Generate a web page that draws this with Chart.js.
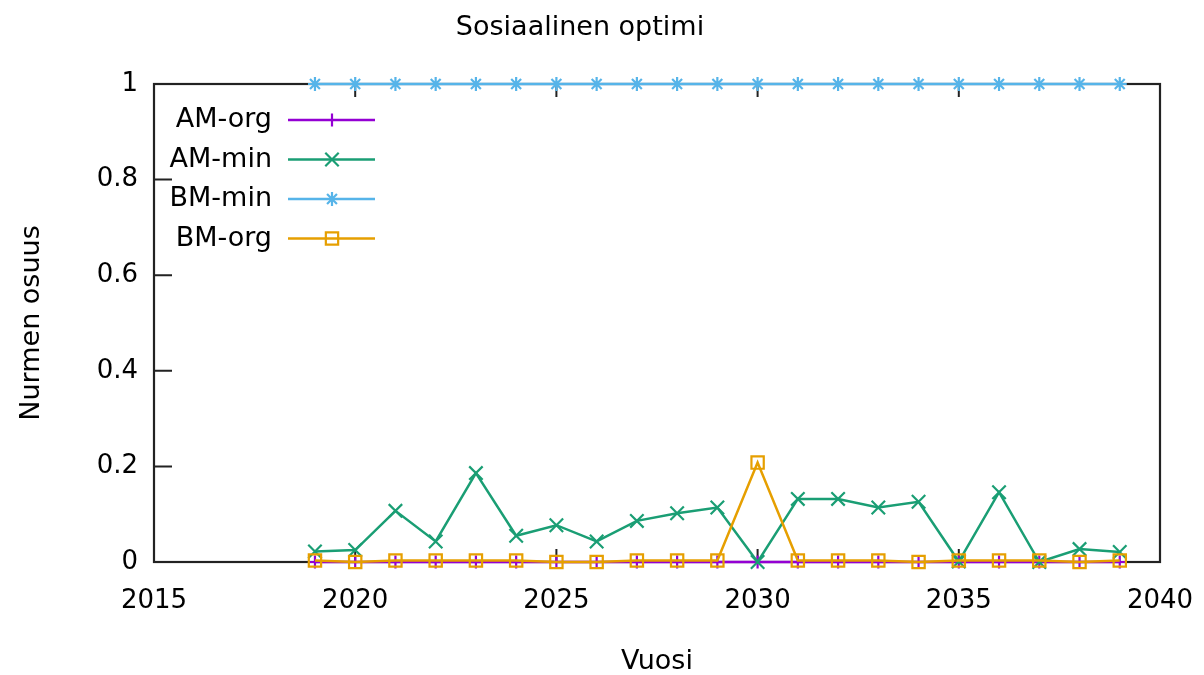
<!DOCTYPE html>
<html>
<head>
<meta charset="utf-8">
<script src="https://cdn.jsdelivr.net/npm/chart.js@4/dist/chart.umd.min.js"></script>
<style>
  html, body { margin: 0; padding: 0; background: #fff; }
  #wrap { width: 1204px; height: 675px; }
</style>
</head>
<body>
<div id="wrap"><canvas id="chart" width="1204" height="675"></canvas></div>
<script>
const years  = [2019, 2020, 2021, 2022, 2023, 2024, 2025, 2026, 2027, 2028, 2029,
                2030, 2031, 2032, 2033, 2034, 2035, 2036, 2037, 2038, 2039];
const amOrg  = [0, 0, 0, 0, 0, 0, 0, 0, 0, 0, 0, 0, 0, 0, 0, 0, 0, 0, 0, 0, 0];
const amMin  = [0.022, 0.025, 0.107, 0.043, 0.186, 0.055, 0.077, 0.043, 0.086, 0.102, 0.114,
                0.0, 0.132, 0.132, 0.114, 0.126, 0.001, 0.146, 0.0, 0.027, 0.021];
const bmMin  = [1, 1, 1, 1, 1, 1, 1, 1, 1, 1, 1, 1, 1, 1, 1, 1, 1, 1, 1, 1, 1];
const bmOrg  = [0.003, 0.0, 0.003, 0.003, 0.003, 0.003, 0.0, 0.0, 0.003, 0.003, 0.003,
                0.208, 0.003, 0.003, 0.003, 0.0, 0.003, 0.003, 0.003, 0.0, 0.003];
const seriesNames = ['AM-org', 'AM-min', 'BM-min', 'BM-org'];
const xTicksRange = [2015, 2040, 5];
const yTicksRange = [0, 1, 0.2];

const FONT = 'DejaVu Sans';
const COL = { amOrg: '#9400d3', amMin: '#1a9e74', bmMin: '#56b4e9', bmOrg: '#e69f00' };

const pts = arr => arr.map((v, i) => ({ x: years[i], y: v }));

const series = [
  { label: seriesNames[0], data: pts(amOrg), color: COL.amOrg, style: 'cross',    r: 6.5, order: 4 },
  { label: seriesNames[1], data: pts(amMin), color: COL.amMin, style: 'crossRot', r: 9.5, order: 3 },
  { label: seriesNames[2], data: pts(bmMin), color: COL.bmMin, style: 'star',     r: 7,   order: 2 },
  { label: seriesNames[3], data: pts(bmOrg), color: COL.bmOrg, style: 'rect',     r: 8.7, order: 1 },
];

// gnuplot style frame + inward ticks
const framePlugin = {
  id: 'frame',
  beforeDatasetsDraw(chart) {
    const { ctx, chartArea: a, scales: { x, y } } = chart;
    ctx.save();
    ctx.strokeStyle = '#222';
    ctx.lineWidth = 2;
    ctx.beginPath();
    x.ticks.forEach(t => {
      const px = x.getPixelForValue(t.value);
      ctx.moveTo(px, a.bottom); ctx.lineTo(px, a.bottom - 13);
      ctx.moveTo(px, a.top);    ctx.lineTo(px, a.top + 13);
    });
    y.ticks.forEach(t => {
      const py = y.getPixelForValue(t.value);
      ctx.moveTo(a.left, py); ctx.lineTo(a.left + 18, py);
    });
    ctx.stroke();
    ctx.lineWidth = 2.2;
    ctx.strokeRect(a.left, a.top, a.right - a.left, a.bottom - a.top);
    ctx.restore();
  }
};

// legend inside plot, text right-aligned before the sample
const keyPlugin = {
  id: 'key',
  afterDraw(chart) {
    const { ctx } = chart;
    ctx.save();
    ctx.font = '27px "' + FONT + '"';
    ctx.textAlign = 'right';
    ctx.textBaseline = 'middle';
    series.forEach((s, i) => {
      const yy = 120 + i * 39.5;
      ctx.fillStyle = '#000';
      ctx.fillText(s.label, 272, yy);
      ctx.strokeStyle = s.color;
      ctx.lineWidth = 2.5;
      ctx.beginPath(); ctx.moveTo(288, yy); ctx.lineTo(375, yy); ctx.stroke();
      ctx.lineWidth = 2.2;
      ctx.fillStyle = 'rgba(0,0,0,0)';
      Chart.helpers.drawPoint(ctx, { pointStyle: s.style, radius: s.r, rotation: 0, borderWidth: 2.2 }, 332, yy);
    });
    ctx.restore();
  }
};

new Chart(document.getElementById('chart'), {
  type: 'line',
  data: {
    datasets: series.map(s => ({
      label: s.label, data: s.data, order: s.order,
      borderColor: s.color, backgroundColor: 'transparent',
      borderWidth: 2.5, tension: 0,
      pointStyle: s.style, pointRadius: s.r, pointHoverRadius: s.r,
      pointBorderColor: s.color, pointBackgroundColor: 'transparent', pointBorderWidth: 2.2,
      clip: false
    }))
  },
  options: {
    responsive: false, animation: false, devicePixelRatio: 1,
    layout: { padding: { left: 0, right: 44, top: 0, bottom: 0 } },
    plugins: {
      legend: { display: false },
      tooltip: { enabled: false },
      title: {
        display: true, text: 'Sosiaalinen optimi', color: '#000',
        font: { family: FONT, size: 27, weight: 'normal', lineHeight: 1.2 },
        padding: { top: 12, bottom: 39.6 }
      }
    },
    scales: {
      x: {
        type: 'linear', min: xTicksRange[0], max: xTicksRange[1],
        grid: { display: false, drawTicks: false }, border: { display: false },
        ticks: { stepSize: xTicksRange[2], color: '#000', padding: 24, maxRotation: 0,
                 font: { family: FONT, size: 26 }, callback: v => String(v) },
        title: { display: true, text: 'Vuosi', color: '#000',
                 font: { family: FONT, size: 27, lineHeight: 1 }, padding: { top: 0, bottom: 0 } },
        afterFit: s => { s.height = 113; s.paddingLeft = 0; s.paddingRight = 0; }
      },
      y: {
        min: yTicksRange[0], max: yTicksRange[1],
        grid: { display: false, drawTicks: false }, border: { display: false },
        ticks: { stepSize: yTicksRange[2], color: '#000', padding: 16,
                 font: { family: FONT, size: 26 },
                 callback: v => (v === 0 || v === 1) ? String(v) : v.toFixed(1) },
        title: { display: true, text: 'Nurmen osuus', color: '#000',
                 font: { family: FONT, size: 27, lineHeight: 1 }, padding: { top: 18, bottom: 0 } },
        afterFit: s => { s.width = 154; s.paddingTop = 0; s.paddingBottom = 0; }
      }
    }
  },
  plugins: [framePlugin, keyPlugin]
});
</script>
</body>
</html>
